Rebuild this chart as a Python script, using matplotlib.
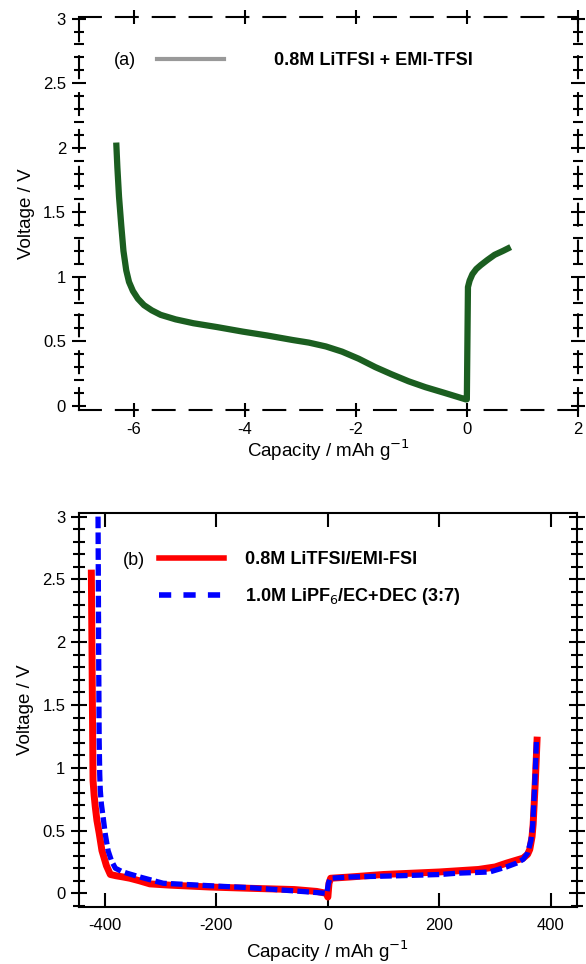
import matplotlib
matplotlib.use("Agg")
import matplotlib.pyplot as plt
from matplotlib.lines import Line2D
from matplotlib.ticker import FixedLocator, MultipleLocator, FixedFormatter

plt.rcParams['font.family'] = ['Liberation Sans', 'DejaVu Sans']
plt.rcParams['axes.unicode_minus'] = False

# ---- data panel (a)
a_cap = [-6.32, -6.30, -6.27, -6.23, -6.19, -6.14, -6.09, -6.02, -5.93, -5.82, -5.68,
         -5.52, -5.25, -4.93, -4.50, -4.04, -3.60, -3.14, -2.85, -2.54, -2.25, -1.95,
         -1.65, -1.36, -1.05, -0.75, -0.40, -0.02, 0.00, 0.02, 0.05, 0.10, 0.17, 0.25,
         0.37, 0.50, 0.65, 0.79]
a_volt = [2.04, 1.85, 1.62, 1.40, 1.20, 1.05, 0.96, 0.89, 0.83, 0.78, 0.74,
          0.705, 0.67, 0.64, 0.61, 0.575, 0.545, 0.51, 0.49, 0.46, 0.42, 0.365,
          0.30, 0.245, 0.19, 0.145, 0.10, 0.05, 0.05, 0.92, 0.97, 1.02, 1.06, 1.09,
          1.13, 1.17, 1.20, 1.23]
a_label = '0.8M LiTFSI + EMI-TFSI'

# ---- data panel (b)
b_red_cap = [-424, -423, -422, -421, -419, -417, -414, -410, -405, -397, -390, -380,
             -367, -355, -338, -319, -283, -211, -140, -60, -20, -3, 0, 2, 5, 40, 100,
             200, 270, 300, 320, 350, 358, 362, 366, 368, 372, 375]
b_red_volt = [2.55, 2.0, 1.44, 0.90, 0.78, 0.69, 0.58, 0.48, 0.34, 0.22, 0.15, 0.14,
              0.13, 0.12, 0.10, 0.075, 0.065, 0.05, 0.04, 0.03, 0.015, 0.0, -0.03, 0.08,
              0.12, 0.13, 0.15, 0.17, 0.19, 0.21, 0.24, 0.28, 0.31, 0.35, 0.45, 0.55,
              0.90, 1.22]
b_blue_cap = [-412, -411, -410, -409, -408, -406, -403, -399, -394, -388, -381, -370,
              -360, -337, -295, -193, -140, -32, -2, 1, 4, 39, 129, 202, 231, 290, 320,
              338, 350, 358, 364, 367, 371, 374]
b_blue_volt = [3.0, 2.0, 1.22, 0.95, 0.82, 0.71, 0.61, 0.47, 0.34, 0.26, 0.20, 0.175,
               0.16, 0.13, 0.08, 0.056, 0.045, 0.01, 0.0, 0.08, 0.12, 0.13, 0.14, 0.15,
               0.16, 0.17, 0.21, 0.24, 0.27, 0.32, 0.42, 0.53, 0.88, 1.22]
b_labels = ['0.8M LiTFSI/EMI-FSI', '1.0M LiPF$_6$/EC+DEC (3:7)']

a_xticks = [-6, -4, -2, 0, 2]
b_xticks = [-400, -200, 0, 200, 400]
yticks = [0, 0.5, 1, 1.5, 2, 2.5, 3]
ytick_labels = ['0', '0.5', '1', '1.5', '2', '2.5', '3']

fig = plt.figure(figsize=(5.86, 9.64), dpi=100)
ax1 = fig.add_axes([0.134, 0.575, 0.852, 0.407])
ax2 = fig.add_axes([0.134, 0.059, 0.851, 0.409])

# panel a
ax1.plot(a_cap, a_volt, color='#1b5e20', lw=4.5, solid_capstyle='butt',
         solid_joinstyle='round')
ax1.set_xlim(-7, 2)
ax1.set_ylim(-0.03, 3.01)
for s in ax1.spines.values():
    s.set_linestyle((0, (10.5, 7.2)))
    s.set_linewidth(1.5)
ax1.xaxis.set_major_locator(FixedLocator(a_xticks))
ax1.set_xticklabels([str(v) for v in a_xticks])
ax1.yaxis.set_major_locator(FixedLocator(yticks))
ax1.yaxis.set_major_formatter(FixedFormatter(ytick_labels))
ax1.yaxis.set_minor_locator(MultipleLocator(0.1))
ax1.tick_params(which='major', direction='inout', length=10, width=1.5,
                top=True, right=True, labelsize=12, pad=4)
ax1.tick_params(which='minor', direction='inout', length=7, width=1.5,
                left=True, right=True)
ax1.set_xlabel('Capacity / mAh g$^{-1}$', fontsize=13.5, labelpad=0)
ax1.set_ylabel('Voltage / V', fontsize=13.5, labelpad=6)
ax1.legend(handles=[Line2D([], [], color='#999999', lw=3)], labels=[a_label],
           loc='center left', bbox_to_anchor=(0.157, 0.89), frameon=False,
           borderpad=0, borderaxespad=0, handlelength=3.7, handletextpad=2.8,
           prop={'weight': 'bold', 'size': 13})
ax1.text(0.093, 0.89, '(a)', transform=ax1.transAxes, fontsize=13,
         ha='center', va='center')

# panel b
ax2.plot(b_red_cap, b_red_volt, color='#ff0000', lw=5.0, label=b_labels[0],
         solid_joinstyle='round')
ax2.plot(b_blue_cap, b_blue_volt, color='#0000ff', lw=3.8, ls=(0, (2.2, 0.8)),
         label=b_labels[1])
ax2.set_xlim(-447, 447)
ax2.set_ylim(-0.11, 3.03)
for s in ax2.spines.values():
    s.set_linewidth(1.5)
ax2.xaxis.set_major_locator(FixedLocator(b_xticks))
ax2.set_xticklabels([str(v) for v in b_xticks])
ax2.yaxis.set_major_locator(FixedLocator(yticks))
ax2.yaxis.set_major_formatter(FixedFormatter(ytick_labels))
ax2.yaxis.set_minor_locator(MultipleLocator(0.1))
ax2.tick_params(axis='x', which='major', direction='in', length=10, width=1.5,
                top=True, labelsize=12, pad=8)
ax2.tick_params(axis='y', which='major', direction='inout', length=11, width=1.5,
                right=True, labelsize=12, pad=4)
ax2.tick_params(axis='y', which='minor', direction='inout', length=8, width=1.5,
                right=True)
ax2.set_xlabel('Capacity / mAh g$^{-1}$', fontsize=13.5, labelpad=4)
ax2.set_ylabel('Voltage / V', fontsize=13.5, labelpad=6)
h, l = ax2.get_legend_handles_labels()
legend_handles = [Line2D([], [], color='#ff0000', lw=4),
                  Line2D([], [], color='#0000ff', lw=4, ls=(0, (2.2, 2.2)))]
ax2.legend(handles=legend_handles, labels=l, loc='center left',
           bbox_to_anchor=(0.161, 0.832), frameon=False, borderpad=0,
           borderaxespad=0, handlelength=3.6, handletextpad=1.2, labelspacing=1.0,
           prop={'weight': 'bold', 'size': 13})
ax2.text(0.111, 0.878, '(b)', transform=ax2.transAxes, fontsize=13,
         ha='center', va='center')

fig.savefig('out.png', dpi=100)
